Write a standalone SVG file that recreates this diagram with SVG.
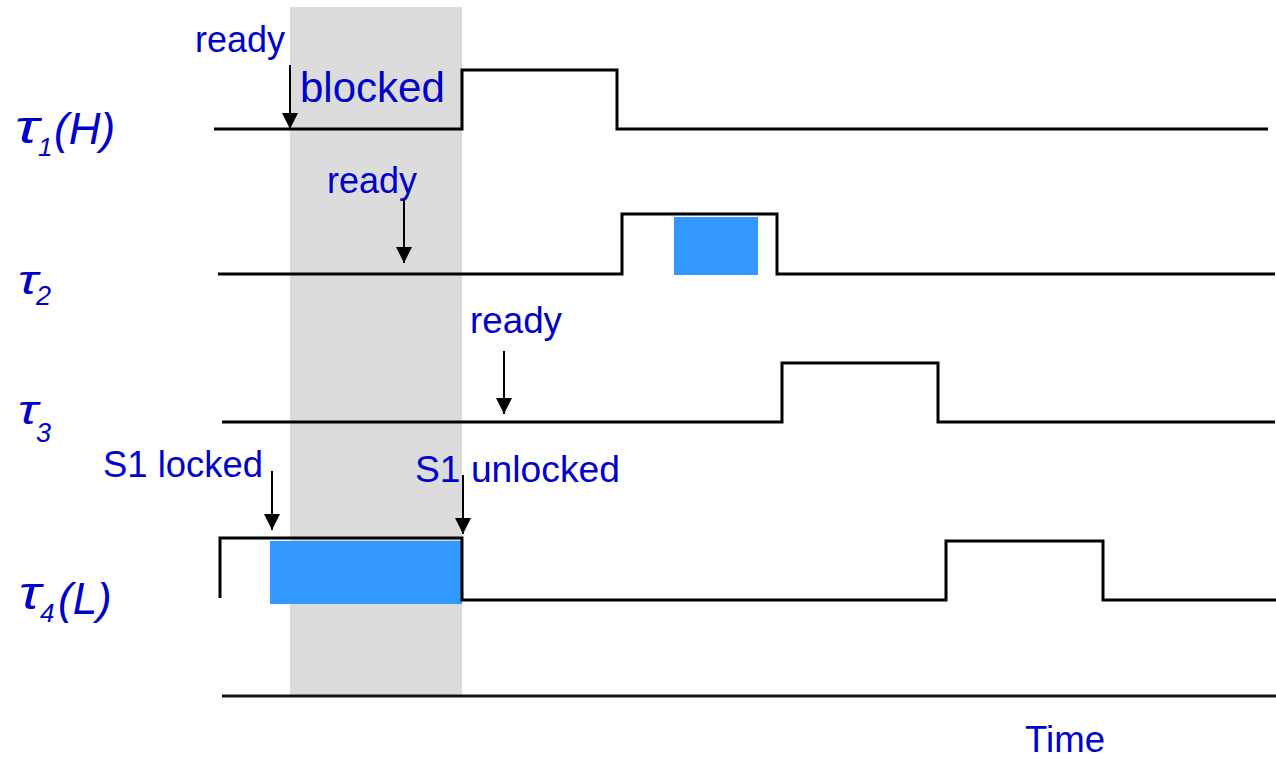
<svg xmlns="http://www.w3.org/2000/svg" width="1276" height="758" viewBox="0 0 1276 758">
  <style>
    .sig { fill: none; stroke: #000; stroke-width: 3; stroke-linejoin: miter; }
    .lbl { font-family: "Liberation Sans", Arial, sans-serif; fill: #0000CC; }
    .task { font-family: "Liberation Sans", Arial, sans-serif; font-style: italic; fill: #0000CC; }
    .crit { fill: #3399FF; }
    .arr { stroke: #000; stroke-width: 2; fill: none; marker-end: url(#head); }
  </style>
  <defs>
    <marker id="head" markerUnits="userSpaceOnUse" markerWidth="16" markerHeight="16" refX="16" refY="8" orient="auto">
      <path d="M0,0 L16,8 L0,16 Z" fill="#000"/>
    </marker>
  </defs>

  <rect width="1276" height="758" fill="#fff"/>

  <!-- blocking interval shading -->
  <rect id="blocked-interval" x="290" y="7" width="172" height="688" fill="#DCDCDC"/>

  <!-- task 1 (high priority) -->
  <g id="task1">
    <text class="task" x="15" y="143" font-size="46" textLength="24" lengthAdjust="spacingAndGlyphs">τ</text>
    <text class="task" x="38" y="156" font-size="26">1</text>
    <text class="task" x="54" y="144" font-size="44">(H)</text>
    <polyline class="sig" points="214,129 462,129 462,70 617,70 617,129 1268,129"/>
    <text class="lbl" x="195" y="52" font-size="36" textLength="90" lengthAdjust="spacingAndGlyphs">ready</text>
    <text class="lbl" x="300" y="102" font-size="42">blocked</text>
  </g>

  <!-- task 2 -->
  <g id="task2">
    <text class="task" x="18" y="294" font-size="40" textLength="20" lengthAdjust="spacingAndGlyphs">τ</text>
    <text class="task" x="36" y="305" font-size="27">2</text>
    <rect class="crit" x="674" y="217" width="84" height="58"/>
    <polyline class="sig" points="218,274 622,274 622,214 777,214 777,274 1275,274"/>
    <text class="lbl" x="327" y="193" font-size="36" textLength="90" lengthAdjust="spacingAndGlyphs">ready</text>
  </g>

  <!-- task 3 -->
  <g id="task3">
    <text class="task" x="18" y="424" font-size="40" textLength="20" lengthAdjust="spacingAndGlyphs">τ</text>
    <text class="task" x="36" y="442" font-size="27">3</text>
    <polyline class="sig" points="222,422 782,422 782,363 938,363 938,422 1275,422"/>
    <text class="lbl" x="470" y="333" font-size="36" textLength="92" lengthAdjust="spacingAndGlyphs">ready</text>
  </g>

  <!-- task 4 (low priority) -->
  <g id="task4">
    <text class="task" x="19" y="609" font-size="46" textLength="22" lengthAdjust="spacingAndGlyphs">τ</text>
    <text class="task" x="40" y="622" font-size="26">4</text>
    <text class="task" x="58" y="614" font-size="44">(L)</text>
    <rect class="crit" x="270" y="541" width="192" height="63"/>
    <polyline class="sig" points="220,598 220,538 462,538 462,600 946,600 946,541 1103,541 1103,600 1276,600"/>
    <text class="lbl" x="103" y="477" font-size="36" textLength="160" lengthAdjust="spacingAndGlyphs">S1 locked</text>
    <text class="lbl" x="415" y="482" font-size="36" textLength="205" lengthAdjust="spacingAndGlyphs">S1 unlocked</text>
  </g>

  <!-- time axis -->
  <g id="time-axis">
    <line x1="222" y1="696" x2="1276" y2="696" stroke="#111" stroke-width="3"/>
    <text class="lbl" x="1025" y="752" font-size="36" textLength="80" lengthAdjust="spacingAndGlyphs">Time</text>
  </g>

  <!-- event arrows -->
  <g id="connectors">
    <line class="arr" x1="290" y1="65" x2="290" y2="129"/>
    <line class="arr" x1="404" y1="200" x2="404" y2="263"/>
    <line class="arr" x1="504" y1="351" x2="504" y2="414"/>
    <line class="arr" x1="272" y1="471" x2="272" y2="530"/>
    <line class="arr" x1="463" y1="475" x2="463" y2="534"/>
  </g>
</svg>
